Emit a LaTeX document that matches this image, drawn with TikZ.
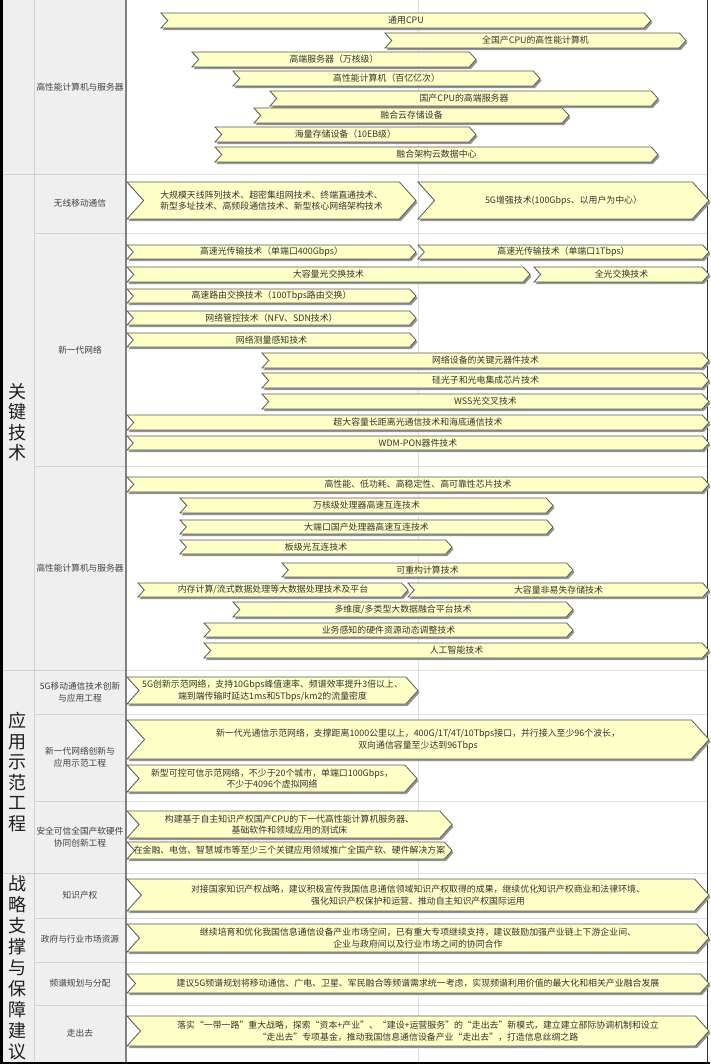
\documentclass[tikz,border=0pt]{standalone}
\usepackage{fontspec}
\setmainfont{Noto Sans CJK SC}
\definecolor{barfill}{HTML}{FFFFC8}
\definecolor{barline}{HTML}{585858}
\definecolor{panel}{HTML}{EFEFEF}
\definecolor{gridc}{HTML}{DEDEDE}
\definecolor{sepc}{HTML}{D2D2D2}
\definecolor{txt}{HTML}{333333}
\definecolor{subtxt}{HTML}{404040}
\tikzset{
  chshadow/.style={fill=black!42},
  chbar/.style={fill=barfill, draw=barline, line width=0.8pt, line join=miter},
  chtext/.style={font=\fontsize{8.9}{11.6}\selectfont, text=txt, align=center, inner sep=0pt},
  cat/.style={font=\fontsize{18}{20.5}\selectfont, text=black!88, align=center, inner sep=0pt},
  subl/.style={font=\fontsize{8.7}{11.5}\selectfont, text=subtxt, align=center, inner sep=0pt},
}
\newcommand\chev[6]{%
  \pgfmathsetmacro\cM{(#4+#5)/2}%
  \pgfmathsetmacro\cD{(#5-#4)*0.45}%
  \pgfmathsetmacro\cRt{#3-\cD}%
  \pgfmathsetmacro\cLn{#2+\cD}%
  \pgfmathsetmacro\cX{(#2+#3)/2}%
  \fill[chshadow] (#2+1.5,#4+2.2) -- (\cRt+1.5,#4+2.2) -- (#3+1.5,\cM+2.2) -- (\cRt+1.5,#5+2.2) -- (#2+1.5,#5+2.2) -- (\cLn+1.5,\cM+2.2) -- cycle;
  \draw[chbar] (#2,#4) -- (\cRt,#4) -- (#3,\cM) -- (\cRt,#5) -- (#2,#5) -- (\cLn,\cM) -- cycle;
  \node[chtext] (#1) at (\cX,\cM) {#6};
}
\begin{document}
\begin{tikzpicture}[x=1pt,y=-1pt]
\useasboundingbox (0,0) rectangle (710,1064);
% panels
\fill[white] (0,0) rectangle (710,1064);
\fill[panel] (0,0) rectangle (125,1062);
% grid lines
\foreach \yy in {174,233,466,670,714,801,873,918,962,1005} {
  \draw[sepc, line width=0.8pt] (34,\yy) -- (125,\yy);
  \draw[gridc, line width=0.8pt] (127,\yy) -- (707,\yy);
}
\foreach \yy in {174,670,873} {
  \draw[sepc, line width=0.8pt] (2,\yy) -- (34,\yy);
}
\draw[sepc, line width=0.8pt] (34,0) -- (34,1062);
\draw[gridc, line width=0.8pt] (418,0) -- (418,1062);
\draw[black!80, line width=1.2pt] (707.4,0) -- (707.4,1062);
\draw[black!50, line width=1.6pt] (126,0) -- (126,1062);
% borders
\fill[black] (0,0) rectangle (2.6,1064);
\fill[black] (0,1061.6) rectangle (710,1064);

% category labels
\node[cat] (catA) at (18,422) {关\\键\\技\\术};
\node[cat] (catB) at (18,772) {应\\用\\示\\范\\工\\程};
\node[cat, font=\fontsize{18}{21}\selectfont] (catC) at (18,968) {战\\略\\支\\撑\\与\\保\\障\\建\\议};

% sub labels
\node[subl] (s1) at (80,87) {高性能计算机与服务器};
\node[subl] (s2) at (80,203) {无线移动通信};
\node[subl] (s3) at (80,350) {新一代网络};
\node[subl] (s4) at (80,568) {高性能计算机与服务器};
\node[subl] (s5) at (80,692) {5G移动通信技术创新\\与应用工程};
\node[subl] (s6) at (80,757) {新一代网络创新与\\应用示范工程};
\node[subl] (s7) at (80,837) {安全可信全国产软硬件\\协同创新工程};
\node[subl] (s8) at (80,895) {知识产权};
\node[subl] (s9) at (80,939) {政府与行业市场资源};
\node[subl] (s10) at (80,983) {频谱规划与分配};
\node[subl] (s11) at (80,1033) {走出去};

% section 1
\chev{b1}{161}{651}{13}{28}{通用CPU}
\chev{b2}{385}{686}{33}{48}{全国产CPU的高性能计算机}
\chev{b3}{192}{476}{52}{67}{高端服务器（万核级）}
\chev{b4}{233}{540}{71}{86}{高性能计算机（百亿亿次）}
\chev{b5}{270}{658}{91}{106}{国产CPU的高端服务器}
\chev{b6}{254}{569}{108}{123}{融合云存储设备}
\chev{b7}{215}{476}{127}{142}{海量存储设备（10EB级）}
\chev{b8}{215}{658}{147}{162}{融合架构云数据中心}

% section 2
\chev{w1}{127}{416}{182}{219}{大规模天线阵列技术、超密集组网技术、终端直通技术、\\新型多址技术、高频段通信技术、新型核心网络架构技术}
\chev{w2}{418}{709}{182}{219}{5G增强技术(100Gbps、以用户为中心）}

% section 3
\chev{n1}{127}{416}{245}{259}{高速光传输技术（单端口400Gbps）}
\chev{n2}{418}{709}{245}{259}{高速光传输技术（单端口1Tbps）}
\chev{n3}{127}{530}{267}{282}{大容量光交换技术}
\chev{n4}{534}{709}{267}{282}{全光交换技术}
\chev{n5}{127}{416}{289}{303}{高速路由交换技术（100Tbps路由交换）}
\chev{n6}{127}{416}{311}{325}{网络管控技术（NFV、SDN技术）}
\chev{n7}{127}{416}{333}{347}{网络测量感知技术}
\chev{n8}{262}{709}{353}{368}{网络设备的关键元器件技术}
\chev{n9}{262}{709}{373}{388}{硅光子和光电集成芯片技术}
\chev{n10}{262}{709}{394}{409}{WSS光交叉技术}
\chev{n11}{127}{709}{415}{430}{超大容量长距离光通信技术和海底通信技术}
\chev{n12}{127}{709}{436}{450}{WDM-PON器件技术}

% section 4
\chev{h1}{127}{709}{477}{492}{高性能、低功耗、高稳定性、高可靠性芯片技术}
\chev{h2}{180}{553}{498}{513}{万核级处理器高速互连技术}
\chev{h3}{180}{553}{520}{534}{大端口国产处理器高速互连技术}
\chev{h4}{180}{452}{540}{554}{板级光互连技术}
\chev{h5}{282}{573}{563}{577}{可重构计算技术}
\chev{h6}{138}{408}{583}{597}{内存计算/流式数据处理等大数据处理技术及平台}
\chev{h7}{408}{709}{583}{597}{大容量非易失存储技术}
\chev{h8}{233}{573}{602}{617}{多维度/多类型大数据融合平台技术}
\chev{h9}{204}{573}{623}{637}{业务感知的硬件资源动态调整技术}
\chev{h10}{204}{709}{643}{658}{人工智能技术}

% section 5
\chev{a1}{127}{418}{677}{704}{5G创新示范网络，支持10Gbps峰值速率、频谱效率提升3倍以上、\\端到端传输时延达1ms和5Tbps/km2的流量密度}
\chev{a2}{127}{709}{720}{759}{新一代光通信示范网络，支撑距离1000公里以上，400G/1T/4T/10Tbps接口，并行接入至少96个波长，\\双向通信容量至少达到96Tbps}
\chev{a3}{127}{417}{765}{792}{新型可控可信示范网络，不少于20个城市，单端口100Gbps，\\不少于4096个虚拟网络}
\chev{a4}{127}{452}{811}{838}{构建基于自主知识产权国产CPU的下一代高性能计算机服务器、\\基础软件和领域应用的测试床}
\chev{a5}{127}{452}{842}{859}{在金融、电信、智慧城市等至少三个关键应用领域推广全国产软、硬件解决方案}

% section 6
\chev{g1}{127}{709}{879}{911}{对接国家知识产权战略，建议积极宣传我国信息通信领域知识产权取得的成果，继续优化知识产权商业和法律环境、\\强化知识产权保护和运营、推动自主知识产权国际运用}
\chev{g2}{127}{709}{924}{952}{继续培育和优化我国信息通信设备产业市场空间，已有重大专项继续支持，建议鼓励加强产业链上下游企业间、\\企业与政府间以及行业市场之间的协同合作}
\chev{g3}{127}{709}{974}{993}{建议5G频谱规划将移动通信、广电、卫星、军民融合等频谱需求统一考虑，实现频谱利用价值的最大化和相关产业融合发展}
\chev{g4}{127}{709}{1016}{1046}{落实“一带一路”重大战略，探索“资本+产业”、“建设+运营服务”的“走出去”新模式，建立建立部际协调机制和设立\\“走出去”专项基金，推动我国信息通信设备产业“走出去”，打造信息丝绸之路}
\end{tikzpicture}
\end{document}
